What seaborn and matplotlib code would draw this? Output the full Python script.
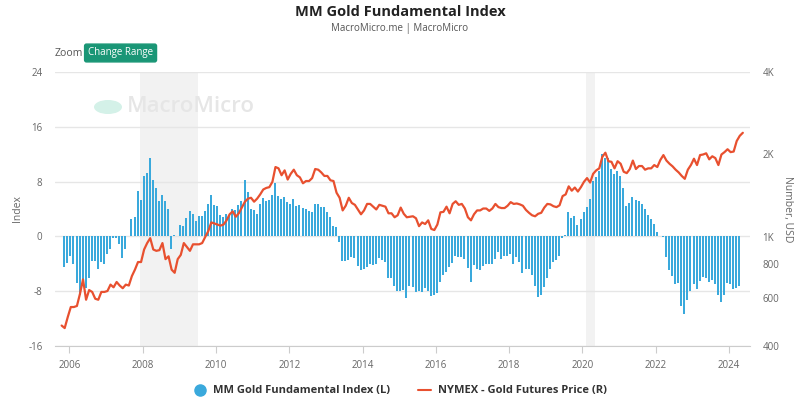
import numpy as np
import pandas as pd
import matplotlib
matplotlib.use("Agg")
import matplotlib.pyplot as plt
from matplotlib.lines import Line2D
from matplotlib.patches import Circle
import seaborn as sns

# ------------------------------------------
# Data
# ------------------------------------------

# MM Gold Fundamental Index, monthly, starting 2005-11
index_start = "2005-11"
index_values = [
    -4.4, -3.9,
    -2.8, -4.1, -6.8, -8.6, -7.2, -7.5, -6.0, -3.6, -3.6, -4.7, -3.8, -4.1,   # 2006
    -2.6, -1.8, -0.3, -0.2, -1.1, -3.2, -1.9, 0.0, 2.6, 2.8, 6.6, 5.3,        # 2007
    8.8, 9.2, 11.4, 8.3, 7.0, 5.2, 6.1, 5.1, 4.0, -1.8, 0.2, 0.0,             # 2008
    1.6, 1.5, 2.7, 3.7, 3.3, 2.2, 3.0, 3.0, 3.7, 4.8, 6.0, 4.6,               # 2009
    4.5, 3.1, 2.8, 3.3, 3.1, 4.0, 3.8, 4.6, 5.1, 8.2, 6.5, 4.0,               # 2010
    3.8, 3.2, 4.7, 5.6, 5.2, 5.3, 6.0, 7.8, 5.9, 5.5, 5.8, 5.0,               # 2011
    4.8, 5.4, 4.5, 4.6, 4.2, 4.0, 3.7, 3.6, 4.7, 4.8, 4.3, 4.3,               # 2012
    3.6, 2.8, 1.5, 1.4, -0.8, -3.6, -3.6, -3.5, -3.0, -3.1, -4.3, -4.9,       # 2013
    -4.8, -4.4, -4.1, -4.2, -4.0, -3.1, -3.5, -3.8, -6.0, -6.0, -7.3, -7.9,   # 2014
    -7.9, -7.8, -9.0, -7.3, -7.4, -8.1, -8.0, -8.1, -7.6, -8.0, -8.7, -8.6,   # 2015
    -8.3, -6.7, -5.6, -5.2, -4.4, -3.9, -2.9, -3.0, -3.0, -3.3, -4.6, -6.7,   # 2016
    -4.2, -4.8, -4.9, -4.3, -4.1, -4.0, -4.1, -3.3, -2.3, -3.3, -2.9, -2.8,   # 2017
    -2.6, -4.0, -3.0, -3.8, -5.3, -4.7, -4.8, -5.6, -7.3, -8.9, -8.5, -7.4,   # 2018
    -6.0, -4.8, -3.7, -3.5, -2.8, -0.2, 0.15, 3.6, 2.7, 3.0, 1.7, 2.5,        # 2019
    3.6, 4.3, 5.4, 8.1, 8.6, 9.5, 12.0, 11.4, 11.4, 9.8, 9.1, 9.5,            # 2020
    8.8, 7.1, 4.5, 4.9, 5.8, 5.3, 5.2, 4.7, 4.0, 3.1, 2.6, 1.8,               # 2021
    0.6, 0.0, -0.05, -3.0, -4.9, -5.8, -7.0, -6.8, -10.2, -11.3, -9.3, -8.0,  # 2022
    -7.0, -7.7, -6.5, -5.9, -6.0, -6.7, -6.3, -7.0, -8.6, -9.6, -8.5, -6.8,   # 2023
    -6.9, -7.7, -7.5, -7.3,                                                   # 2024
]

# NYMEX gold futures price (USD), monthly, starting 2005-10
gold_start = "2005-10"
gold_values = [
    475, 465, 510,
    555, 555, 560, 620, 700, 590, 640, 630, 595, 590, 630, 630,             # 2006
    635, 670, 655, 685, 665, 650, 670, 665, 720, 760, 810, 810,             # 2007
    900, 950, 990, 900, 890, 895, 950, 830, 850, 760, 740, 830,             # 2008
    860, 950, 920, 890, 940, 940, 940, 950, 1000, 1050, 1130, 1120,         # 2009
    1110, 1100, 1110, 1150, 1210, 1240, 1185, 1220, 1280, 1345, 1380, 1390, # 2010
    1345, 1380, 1430, 1490, 1510, 1520, 1590, 1800, 1780, 1680, 1750, 1620, # 2011
    1700, 1760, 1680, 1650, 1570, 1600, 1600, 1640, 1770, 1760, 1720, 1670, # 2012
    1670, 1610, 1600, 1450, 1390, 1250, 1300, 1390, 1330, 1310, 1260, 1210, # 2013
    1250, 1320, 1320, 1290, 1260, 1310, 1300, 1290, 1220, 1220, 1180, 1200, # 2014
    1280, 1215, 1180, 1185, 1190, 1170, 1095, 1130, 1115, 1150, 1070, 1060, # 2015
    1110, 1230, 1235, 1290, 1220, 1320, 1350, 1310, 1320, 1270, 1180, 1150, # 2016
    1210, 1250, 1250, 1270, 1270, 1245, 1270, 1320, 1285, 1275, 1275, 1300, # 2017
    1340, 1320, 1325, 1315, 1300, 1255, 1225, 1200, 1190, 1215, 1225, 1280, # 2018
    1320, 1315, 1295, 1285, 1305, 1410, 1430, 1530, 1475, 1515, 1465, 1520, # 2019
    1590, 1640, 1580, 1700, 1750, 1780, 1960, 2030, 1890, 1880, 1780, 1890, # 2020
    1850, 1730, 1710, 1770, 1900, 1770, 1815, 1815, 1760, 1780, 1780, 1830, # 2021
    1800, 1910, 1990, 1900, 1850, 1810, 1760, 1720, 1670, 1630, 1760, 1830, # 2022
    1930, 1830, 1990, 2000, 2020, 1920, 1970, 1940, 1830, 2000, 2040, 2090, # 2023
    2040, 2050, 2240, 2340, 2400,                                           # 2024
]

recessions = [("2007-12", "2009-06"), ("2020-02", "2020-04")]

year_ticks = list(range(2006, 2025, 2))
left_ticks = [-16, -8, 0, 8, 16, 24]
right_ticks = [400, 600, 800, 1000, 2000, 4000]
right_labels = ["400", "600", "800", "1K", "2K", "4K"]


def to_year(dates):
    return dates.year + (dates.month - 1) / 12 + (dates.day - 1) / 365


index_dates = pd.date_range(index_start, periods=len(index_values), freq="MS")
gold_dates = pd.date_range(gold_start, periods=len(gold_values), freq="MS") + pd.Timedelta(days=15)

df_index = pd.DataFrame({"year": np.round(to_year(index_dates) + 0.03, 4), "value": index_values})
df_gold = pd.DataFrame({"year": to_year(gold_dates), "price": gold_values})

# ------------------------------------------
# Figure
# ------------------------------------------

sns.set_style("white")
plt.rcParams["font.family"] = ["Open Sans", "DejaVu Sans"]

bar_color = "#3aa9dc"
line_color = "#e8502f"
text_gray = "#666666"

fig = plt.figure(figsize=(8, 4.01), dpi=100)
ax = fig.add_axes([55 / 800, 55 / 401, 695 / 800, 274 / 401])

for start, end in recessions:
    s = to_year(pd.DatetimeIndex([start]))[0]
    e = to_year(pd.DatetimeIndex([end]))[0] + 1 / 12
    ax.axvspan(s, e, color="#f2f2f2", zorder=0, lw=0)

sns.barplot(
    data=df_index, x="year", y="value",
    native_scale=True, width=0.655, color=bar_color,
    saturation=1, linewidth=0, ax=ax, zorder=2
)

ax.set_ylim(-16, 24)
ax.set_yticks(left_ticks)
ax.set_yticklabels([str(t) for t in left_ticks])
ax.yaxis.grid(True, color="#e6e6e6", lw=1)
ax.set_axisbelow(True)
ax.set_xlim(2005.61, 2024.57)
ax.set_xticks(year_ticks)
ax.set_xticklabels([str(y) for y in year_ticks])
ax.set_xlabel("")
ax.set_ylabel("Index", color=text_gray, fontsize=7.5, labelpad=4)
ax.tick_params(axis="y", length=0, labelsize=7, labelcolor=text_gray, pad=9)
ax.tick_params(axis="x", length=5, color="#cccccc", labelsize=7,
               labelcolor=text_gray, pad=5, direction="out", bottom=True)
for side in ["left", "right", "top"]:
    ax.spines[side].set_visible(False)
ax.spines["bottom"].set_color("#cccccc")

ax2 = ax.twinx()
sns.lineplot(data=df_gold, x="year", y="price", color=line_color,
             linewidth=1.6, ax=ax2, zorder=3)
ax2.set_yscale("log")
ax2.set_ylim(400, 4000)
ax2.set_yticks(right_ticks)
ax2.set_yticklabels(right_labels)
ax2.minorticks_off()
ax2.set_xlim(2005.61, 2024.57)
ax2.set_xlabel("")
ax2.set_ylabel("Number, USD", color=text_gray, fontsize=7.5, rotation=270, labelpad=10)
ax2.tick_params(axis="y", length=0, labelsize=7, labelcolor=text_gray, pad=9)
for side in ["left", "right", "top", "bottom"]:
    ax2.spines[side].set_visible(False)

# ------------------------------------------
# Titles, controls, watermark, legend
# ------------------------------------------

fig.text(0.5, 1 - 12 / 401, "MM Gold Fundamental Index", ha="center", va="center",
         fontsize=10.5, fontweight="bold", color="#222222")
fig.text(0.5, 1 - 29 / 401, "MacroMicro.me | MacroMicro", ha="center", va="center",
         fontsize=7, color="#555555")

fig.text(55 / 800, 1 - 53 / 401, "Zoom", ha="left", va="center", fontsize=7.5, color="#555555")
fig.text(88 / 800, 1 - 53 / 401, "Change Range", ha="left", va="center", fontsize=7,
         color="white",
         bbox=dict(boxstyle="round,pad=0.35,rounding_size=0.2", fc="#1a9676", ec="#1a9676"))

fig.patches.append(Circle((108 / 800, 1 - 107 / 401), 14 / 800, transform=fig.transFigure,
                          facecolor="#d4f1e8", edgecolor="none", zorder=0))
fig.text(127 / 800, 1 - 107 / 401, "MacroMicro", ha="left", va="center",
         fontsize=16, fontweight="semibold", color="#e6e6e6", zorder=1)

handles = [
    Line2D([0], [0], marker="o", linestyle="none", markersize=8,
           markerfacecolor=bar_color, markeredgecolor=bar_color),
    Line2D([0], [0], color=line_color, lw=1.5),
]
labels = ["MM Gold Fundamental Index (L)", "NYMEX - Gold Futures Price (R)"]
fig.legend(handles, labels, loc="center", bbox_to_anchor=(0.5, 10 / 401), ncol=2,
           frameon=False, prop={"size": 8, "weight": "bold"}, handlelength=1.2,
           columnspacing=2.5, handletextpad=0.6, labelcolor="#333333")

fig.savefig("out.png", dpi=100)
